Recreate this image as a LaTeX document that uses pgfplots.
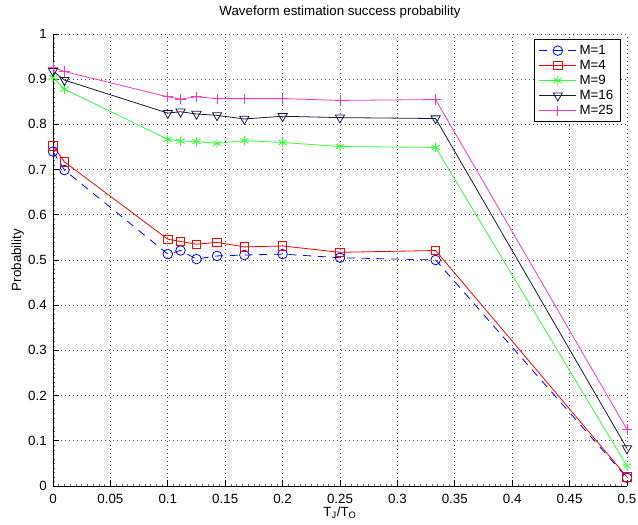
\documentclass[border=0pt]{standalone}
\usepackage{pgfplots}
\pgfplotsset{compat=1.18}
\usepackage{fontspec}
\setmainfont{Liberation Sans}

% colours of the five series
\definecolor{cM1}{rgb}{0,0,1}
\definecolor{cM4}{rgb}{1,0,0}
\definecolor{cM9}{rgb}{0.2,1,0.2}
\definecolor{cM16}{rgb}{0.1,0.1,0.25}
\definecolor{cM25}{rgb}{1,0.2,0.75}

\begin{document}
\fontsize{10}{12}\selectfont
\begin{tikzpicture}
\begin{axis}[
  scale only axis,
  width=430.5pt, height=339pt,
  at={(0,0)}, anchor=south west,
  xmin=0, xmax=0.5, ymin=0, ymax=1,
  axis x line*=bottom, axis y line*=left,
  axis line style={-, line width=0.6pt, black},
  xtick={0,0.05,...,0.5}, ytick={0,0.1,...,1},
  xticklabels={0,0.05,0.1,0.15,0.2,0.25,0.3,0.35,0.4,0.45,0.5},
  yticklabels={0,0.1,0.2,0.3,0.4,0.5,0.6,0.7,0.8,0.9,1},
  minor x tick num=9, minor y tick num=9,
  tick align=inside,
  major tick length=4.5pt, minor tick length=1.5pt,
  major tick style={black, line width=0.5pt},
  minor tick style={black!60, line width=0.4pt},
  grid=major,
  major grid style={black!70, line width=0.5pt, dash pattern=on 0.6pt off 2.4pt},
  xticklabel style={anchor=base, inner sep=0pt, yshift=-12.75pt},
  yticklabel style={anchor=east, inner sep=0pt, xshift=-4.5pt},
  /pgf/number format/assume math mode=true,
  title={Waveform estimation success probability},
  title style={at={(axis description cs:0.5,1)}, anchor=base, inner sep=0pt, yshift=7.5pt},
  xlabel={T\textsubscript{J}/T\textsubscript{O}},
  xlabel style={at={(axis description cs:0.5,-0.0664)}, anchor=base, inner sep=0pt},
  ylabel={Probability},
  ylabel style={at={(axis description cs:-0.0557,0.5)}, anchor=base, inner sep=0pt},
  every axis plot/.append style={line width=0.6pt},
  legend style={at={(rel axis cs:1,1)}, anchor=north east,
    xshift=-5pt, yshift=-4pt, draw=black, line width=0.6pt,
    fill=white, font=\fontsize{10}{12}\selectfont,
    row sep=-1.2pt, inner xsep=3pt, inner ysep=2pt,
    cells={anchor=west}},
  legend image code/.code={
    \draw[mark repeat=2, mark phase=2] plot coordinates {(0pt,0pt) (14pt,0pt) (28pt,0pt)};},
]
% M=1
\addplot[cM1, dashed, dash pattern=on 6pt off 5pt, mark=o, mark size=3.6pt,
  mark options={solid}] coordinates {
  (0,0.740) (0.01,0.699) (0.1,0.513) (0.1111,0.521) (0.125,0.502)
  (0.1429,0.509) (0.1667,0.511) (0.2,0.513) (0.25,0.505) (0.3333,0.500) (0.5,0.018)};
\addlegendentry{M=1}
% M=4
\addplot[cM4, mark=square, mark size=3.2pt] coordinates {
  (0,0.753) (0.01,0.717) (0.1,0.546) (0.1111,0.541) (0.125,0.535)
  (0.1429,0.539) (0.1667,0.529) (0.2,0.531) (0.25,0.517) (0.3333,0.521) (0.5,0.020)};
\addlegendentry{M=4}
% M=9
\addplot[cM9, mark=asterisk, mark size=3.6pt] coordinates {
  (0,0.904) (0.01,0.878) (0.1,0.767) (0.1111,0.763) (0.125,0.762)
  (0.1429,0.758) (0.1667,0.764) (0.2,0.760) (0.25,0.751) (0.3333,0.749) (0.5,0.044)};
\addlegendentry{M=9}
% M=16
\addplot[cM16, mark=triangle, mark size=4pt, mark options={rotate=180}] coordinates {
  (0,0.918) (0.01,0.898) (0.1,0.825) (0.1111,0.828) (0.125,0.823)
  (0.1429,0.820) (0.1667,0.812) (0.2,0.818) (0.25,0.815) (0.3333,0.813) (0.5,0.083)};
\addlegendentry{M=16}
% M=25
\addplot[cM25, mark=+, mark size=3.8pt] coordinates {
  (0,0.926) (0.01,0.917) (0.1,0.861) (0.1111,0.856) (0.125,0.861)
  (0.1429,0.857) (0.1667,0.857) (0.2,0.857) (0.25,0.853) (0.3333,0.855) (0.5,0.125)};
\addlegendentry{M=25}
\end{axis}
\pgfresetboundingbox
\path[use as bounding box] (-39.75pt,-28.5pt) rectangle (438.75pt,364.5pt);
\end{tikzpicture}
\end{document}
